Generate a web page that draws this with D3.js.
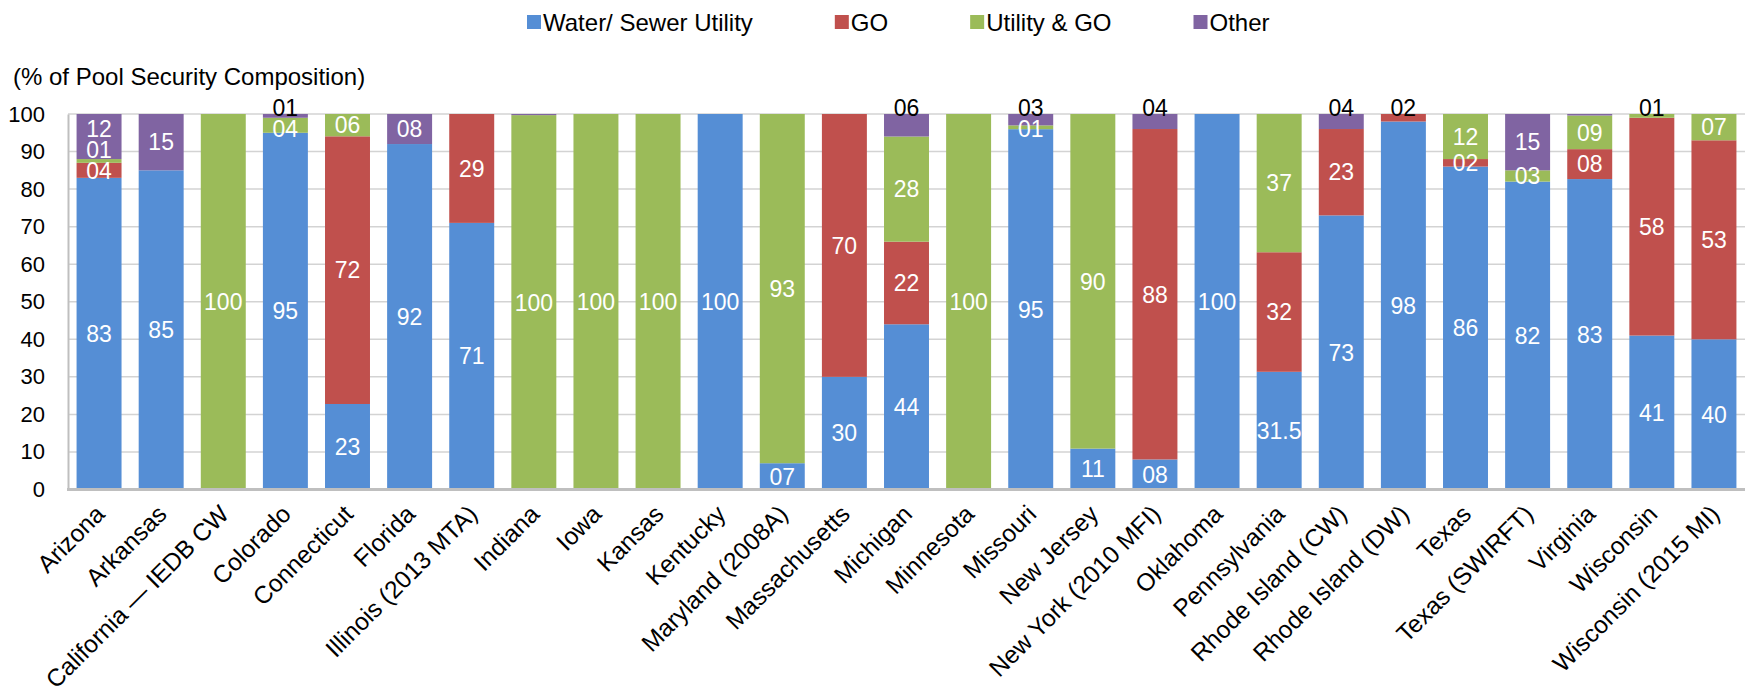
<!DOCTYPE html>
<html>
<head>
<meta charset="utf-8">
<script src="https://cdn.jsdelivr.net/npm/d3@7"></script>
<style>
  html, body { margin: 0; padding: 0; background: #fff; }
  svg { display: block; font-family: "Liberation Sans", Arial, sans-serif; }
</style>
</head>
<body>
<svg id="chart" width="1745" height="688"></svg>
<script>
const categories = [
  "Arizona", "Arkansas", "California — IEDB CW", "Colorado", "Connecticut", "Florida",
  "Illinois (2013 MTA)", "Indiana", "Iowa", "Kansas", "Kentucky", "Maryland (2008A)",
  "Massachusetts", "Michigan", "Minnesota", "Missouri", "New Jersey", "New York (2010 MFI)",
  "Oklahoma", "Pennsylvania", "Rhode Island (CW)", "Rhode Island (DW)", "Texas",
  "Texas (SWIRFT)", "Virginia", "Wisconsin", "Wisconsin (2015 MI)"
];
const seriesNames = ["Water/ Sewer Utility", "GO", "Utility & GO", "Other"];
const waterSewer = [83, 85, 0, 95, 23, 92, 71, 0, 0, 0, 100, 7, 30, 44, 0, 95, 11, 8, 100, 31.5, 73, 98, 86, 82, 83, 41, 40];
const go         = [4, 0, 0, 0, 72, 0, 29, 0, 0, 0, 0, 0, 70, 22, 0, 0, 0, 88, 0, 32, 23, 2, 2, 0, 8, 58, 53];
const utilityGo  = [1, 0, 100, 4, 6, 0, 0, 100, 100, 100, 0, 93, 0, 28, 100, 1, 90, 0, 0, 37, 0, 0, 12, 3, 9, 1, 7];
const other      = [12, 15, 0, 1, 0, 8, 0, 0.3, 0, 0, 0, 0, 0, 6, 0, 3, 0, 4, 0, 0, 4, 0, 0, 15, 0.4, 0, 0];
const yTicks = [0, 10, 20, 30, 40, 50, 60, 70, 80, 90, 100];
const yTitle = "(% of Pool Security Composition)";

const colors = ["#558ED5", "#C0504D", "#9BBB59", "#8064A2"];
const seriesValues = [waterSewer, go, utilityGo, other];

const svg = d3.select("#chart");
const mLeft = 68, mRight = 1745, mTop = 114, mBottom = 489.5;

const x = d3.scaleBand().domain(categories).range([mLeft, mRight])
  .paddingInner(0.276).paddingOuter(0.138);
const y = d3.scaleLinear().domain([0, 100]).range([mBottom, mTop]);

// Build 100%-stacked table
const rows = categories.map((c, i) => {
  const r = { cat: c };
  seriesNames.forEach((s, k) => r[s] = seriesValues[k][i]);
  return r;
});
const stack = d3.stack().keys(seriesNames).offset(d3.stackOffsetExpand);
const stacked = stack(rows);

// gridlines
const grid = svg.append("g");
grid.selectAll("line").data(yTicks.filter(t => t > 0)).join("line")
  .attr("x1", mLeft).attr("x2", mRight)
  .attr("y1", d => y(d)).attr("y2", d => y(d))
  .attr("stroke", "#D3D3D3").attr("stroke-width", 1.5);

// y axis
const yAxis = svg.append("g").attr("transform", `translate(${mLeft},0)`)
  .call(d3.axisLeft(y).tickValues(yTicks).tickSize(0).tickPadding(23));
yAxis.select(".domain").attr("stroke", "#BFBFBF").attr("stroke-width", 2);
yAxis.selectAll("text").attr("font-size", 22).attr("fill", "#000")
  .attr("font-family", "'Liberation Sans', Arial, sans-serif");

// bars
const gBars = svg.append("g");
stacked.forEach((layer, k) => {
  gBars.append("g").attr("fill", colors[k])
    .selectAll("rect").data(layer).join("rect")
    .attr("x", d => x(d.data.cat))
    .attr("width", x.bandwidth())
    .attr("y", d => y(d[1] * 100))
    .attr("height", d => Math.max(0, y(d[0] * 100) - y(d[1] * 100)));
});

// x axis baseline
svg.append("line").attr("x1", mLeft - 1).attr("x2", mRight)
  .attr("y1", mBottom).attr("y2", mBottom)
  .attr("stroke", "#BFBFBF").attr("stroke-width", 3);

// x labels
const xAxis = svg.append("g").attr("transform", `translate(0,${mBottom})`)
  .call(d3.axisBottom(x).tickSize(0).tickPadding(0));
xAxis.select(".domain").remove();
xAxis.selectAll(".tick text")
  .attr("font-size", 24.5).attr("fill", "#000")
  .attr("font-family", "'Liberation Sans', Arial, sans-serif")
  .attr("text-anchor", "end")
  .attr("y", 0).attr("dy", "0.35em")
  .attr("transform", "translate(1,20) rotate(-45)");

// data labels
function fmt(v) {
  if (!Number.isInteger(v)) return String(v);
  return v < 10 ? "0" + v : String(v);
}
const gLabels = svg.append("g").attr("font-size", 23).attr("text-anchor", "middle");
const gap = 21;
categories.forEach((c, i) => {
  let topK = -1;
  seriesValues.forEach((arr, k) => { if (arr[i] > 0) topK = k; });
  const labs = [];
  stacked.forEach((layer, k) => {
    const v = seriesValues[k][i];
    if (v < 0.5) return;
    const d = layer[i];
    const outside = k === topK && (v < 5 || (seriesNames[k] === "Other" && v <= 6));
    const cy = outside ? y(100) - 6 : (y(d[0] * 100) + y(d[1] * 100)) / 2;
    labs.push({ v, outside, cy });
  });
  // bottom-up: keep inside labels from overlapping
  for (let j = 1; j < labs.length; j++) {
    if (labs[j].outside) continue;
    if (labs[j].cy > labs[j - 1].cy - gap) labs[j].cy = labs[j - 1].cy - gap;
  }
  // top-down: keep below fixed outside labels
  for (let j = labs.length - 2; j >= 0; j--) {
    if (labs[j].cy < labs[j + 1].cy + gap) labs[j].cy = labs[j + 1].cy + gap;
  }
  const cx = x(c) + x.bandwidth() / 2;
  labs.forEach(l => {
    gLabels.append("text")
      .attr("x", cx).attr("y", l.cy).attr("dy", "0.36em")
      .attr("fill", l.outside ? "#000" : "#fff")
      .text(fmt(l.v));
  });
});

// y title
svg.append("text").attr("x", 13).attr("y", 85)
  .attr("font-size", 24).attr("fill", "#000").text(yTitle);

// legend
const legend = svg.append("g").attr("font-size", 24);
let lx = 527;
seriesNames.forEach((s, k) => {
  legend.append("rect").attr("x", lx).attr("y", 15).attr("width", 14).attr("height", 14)
    .attr("fill", colors[k]);
  const t = legend.append("text").attr("x", lx + 16).attr("y", 31).attr("fill", "#000").text(s);
  lx += 16 + t.node().getComputedTextLength() + 82;
});
</script>
</body>
</html>
